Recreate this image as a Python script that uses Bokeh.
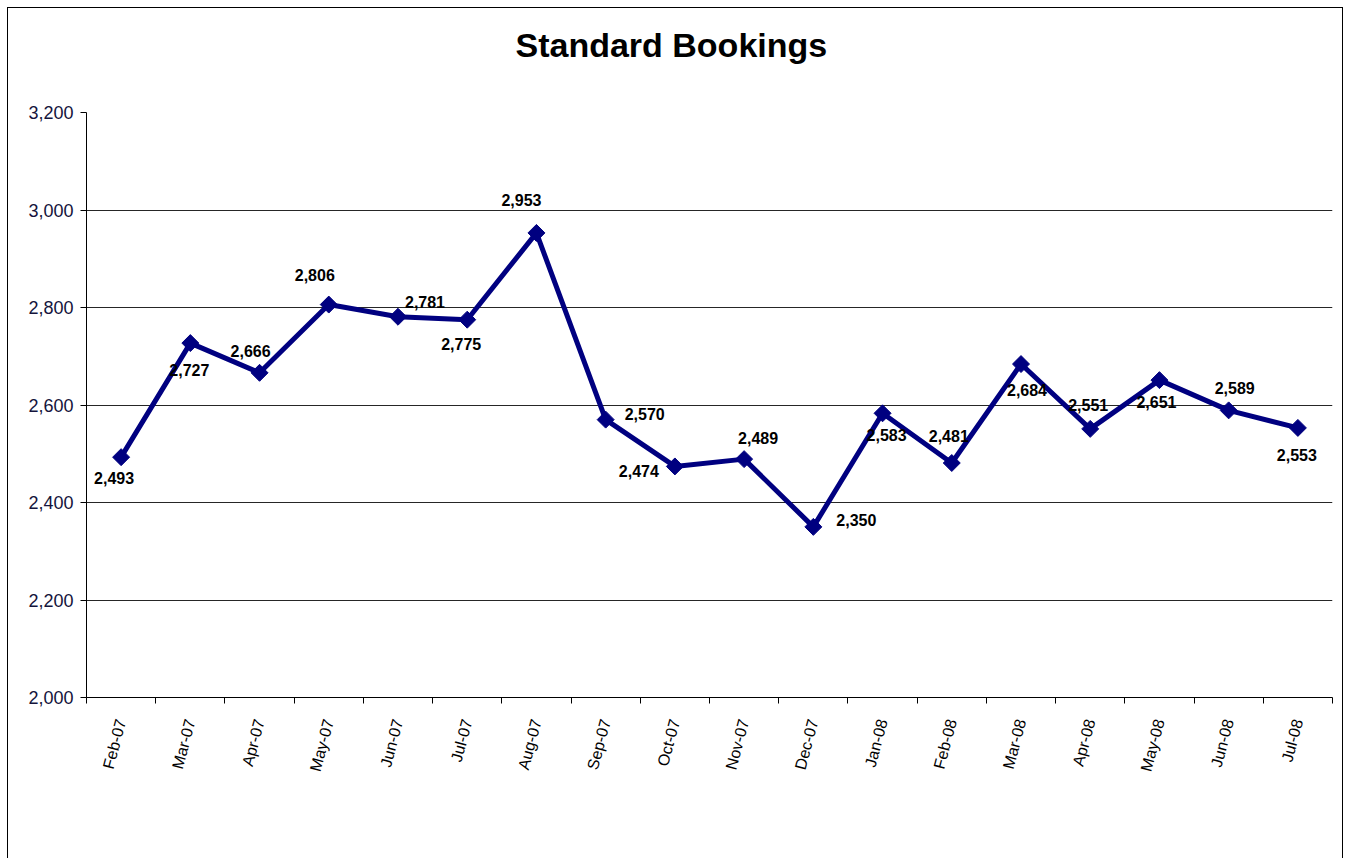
import math
import numpy as np
from bokeh.plotting import figure
from bokeh.models import (ColumnDataSource, Range1d, FixedTicker, NumeralTickFormatter, Title)
from bokeh.core.properties import value
from bokeh.embed import file_html
from bokeh.resources import INLINE

months = ["Feb-07", "Mar-07", "Apr-07", "May-07", "Jun-07", "Jul-07", "Aug-07",
          "Sep-07", "Oct-07", "Nov-07", "Dec-07", "Jan-08", "Feb-08", "Mar-08",
          "Apr-08", "May-08", "Jun-08", "Jul-08"]
bookings = [2493, 2727, 2666, 2806, 2781, 2775, 2953, 2570, 2474, 2489, 2350,
            2583, 2481, 2684, 2551, 2651, 2589, 2553]
y_ticks = [2000, 2200, 2400, 2600, 2800, 3000, 3200]
title_text = "Standard Bookings"

# label placement (screen pixel offsets, +dy = down)
lab_dx = [-7, -1, -9, -14, 27, -6, -15, 39, -36, 14, 43, 4, -3, 6, -2, -3, 6, -1]
lab_dy = [21, 27, -22, -30, -15, 24, -33, -6, 5, -21, -7, 22, -27, 26, -24, 22, -22, 27]

FONT = "Liberation Sans"
xs = np.arange(len(months)) + 0.5

src = ColumnDataSource(dict(
    x=xs, y=bookings,
    txt=[f"{v:,}" for v in bookings],
    dx=lab_dx, dy=lab_dy,
))

p = figure(width=1336, height=851, output_backend="svg", toolbar_location=None,
           x_range=Range1d(0, len(months)), y_range=Range1d(2000, 3200),
           min_border_left=78, min_border_right=12, min_border_top=104,
           min_border_bottom=162)
p.styles = {"margin-left": "7px", "margin-top": "7px",
            "border-top": "1px solid #000", "border-left": "1px solid #000",
            "border-right": "1px solid #000"}
p.outline_line_color = None
p.background_fill_color = "white"
p.border_fill_color = "white"

p.title.text = title_text
p.title.text_font = FONT
p.title.text_font_size = "34px"
p.title.text_font_style = "bold"
p.title.text_color = "black"
p.title.align = "left"
p.title.offset = 429
p.title.standoff = 20

# spacer between the title and the frame
p.add_layout(Title(text=" ", text_font_size="10px", standoff=26), "above")

# y axis
p.yaxis.ticker = FixedTicker(ticks=y_ticks)
p.yaxis.formatter = NumeralTickFormatter(format="0,0")
p.yaxis.major_label_text_font = FONT
p.yaxis.major_label_text_font_size = "18px"
p.yaxis.major_label_text_color = "#14143c"
p.yaxis.major_tick_out = 6
p.yaxis.major_tick_in = 0
p.yaxis.minor_tick_line_color = None
p.yaxis.major_label_standoff = 7
p.yaxis.axis_line_color = "black"
p.yaxis.major_tick_line_color = "black"

# x axis
p.xaxis.ticker = FixedTicker(ticks=list(xs), minor_ticks=list(range(len(months) + 1)))
p.xaxis.major_label_overrides = {float(x): m for x, m in zip(xs, months)}
p.xaxis.major_label_orientation = math.radians(75)
p.xaxis.major_label_text_font = FONT
p.xaxis.major_label_text_font_size = "16px"
p.xaxis.major_label_text_color = "black"
p.xaxis.major_tick_line_color = None
p.xaxis.minor_tick_line_color = "black"
p.xaxis.minor_tick_out = 6
p.xaxis.minor_tick_in = 0
p.xaxis.major_label_standoff = 16
p.xaxis.axis_line_color = "black"

p.xgrid.grid_line_color = None
p.ygrid.ticker = FixedTicker(ticks=y_ticks)
p.ygrid.grid_line_color = "black"
p.ygrid.grid_line_alpha = 0.85

p.line("x", "y", source=src, line_color="#000080", line_width=5)
p.scatter("x", "y", source=src, marker="square", angle=math.pi / 4, size=12,
          fill_color="#000080", line_color="#000080")
p.text("x", "y", text="txt", source=src, x_offset="dx", y_offset="dy",
       text_align="center", text_baseline="middle",
       text_font=value(FONT), text_font_size="16px", text_font_style="bold",
       text_color="black")

open("out.html", "w").write(file_html(p, INLINE))
